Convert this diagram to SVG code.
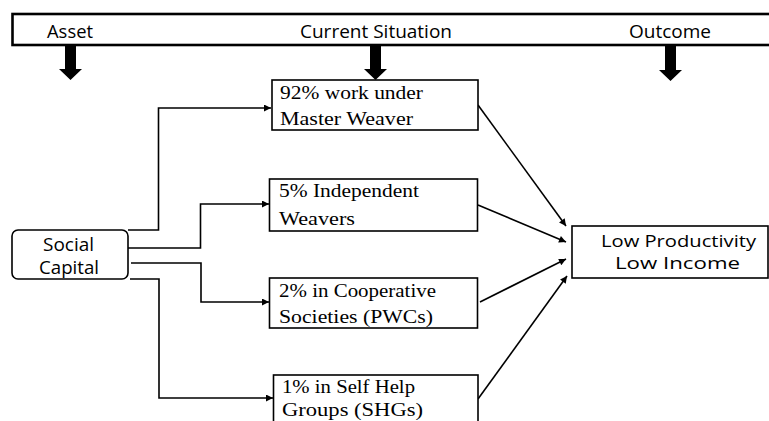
<svg xmlns="http://www.w3.org/2000/svg" width="769" height="421" viewBox="0 0 769 421">
<defs>
<style>
.sans{font-family:"Open Sans","Liberation Sans",sans-serif;font-size:18px;fill:#000}
.sm{font-size:17px}
.serif{font-family:"Liberation Serif","Times New Roman",serif;font-size:18.5px;fill:#000}
.box{fill:#fff;stroke:#000;stroke-width:1.6}
.conn{fill:none;stroke:#000;stroke-width:1.6}
.thick{fill:#000;stroke:none}
</style>
<marker id="ah" viewBox="0 0 10 10" refX="10" refY="5" markerWidth="9" markerHeight="7" markerUnits="userSpaceOnUse" orient="auto">
<path d="M0,0 L10,5 L0,10 z" fill="#000"/>
</marker>
</defs>
<rect width="769" height="421" fill="#fff"/>
<g id="header">
<rect x="12.5" y="14" width="780" height="31" fill="#fff" stroke="#000" stroke-width="2.6"/>
<text class="sans" x="47" y="37.5" textLength="46" lengthAdjust="spacingAndGlyphs">Asset</text>
<text class="sans" x="300" y="37.5" textLength="152" lengthAdjust="spacingAndGlyphs">Current Situation</text>
<text class="sans" x="629" y="37.5" textLength="82" lengthAdjust="spacingAndGlyphs">Outcome</text>
<path class="thick" d="M65,46 H76 V69 H82 L70.5,80 L59,69 H65 Z"/>
<path class="thick" d="M370,46 H381 V69 H387 L375.5,80 L364,69 H370 Z"/>
<path class="thick" d="M665,46 H676 V70 H682 L670.5,81 L659,70 H665 Z"/>
</g>
<g id="connectors">
<polyline class="conn" points="128,230 158.5,230 158.5,108 271,108" marker-end="url(#ah)"/>
<polyline class="conn" points="128,248 200.5,248 200.5,204 269,204" marker-end="url(#ah)"/>
<polyline class="conn" points="131,263 201,263 201,302 269,302" marker-end="url(#ah)"/>
<polyline class="conn" points="130,279 159,279 159,398 273,398" marker-end="url(#ah)"/>
<line class="conn" x1="478" y1="105" x2="566" y2="226" marker-end="url(#ah)"/>
<line class="conn" x1="478" y1="205" x2="566" y2="242" marker-end="url(#ah)"/>
<line class="conn" x1="480" y1="302" x2="566" y2="259" marker-end="url(#ah)"/>
<line class="conn" x1="478" y1="399" x2="567" y2="276" marker-end="url(#ah)"/>
</g>
<g id="social-capital">
<rect class="box" x="12" y="230" width="116" height="49" rx="6" ry="6"/>
<text class="sans" x="43" y="250.5" textLength="51" lengthAdjust="spacingAndGlyphs">Social</text>
<text class="sans" x="39" y="273.5" textLength="60" lengthAdjust="spacingAndGlyphs">Capital</text>
</g>
<g id="master-weaver">
<rect class="box" x="272" y="80" width="206" height="50"/>
<text class="serif" x="280" y="99" textLength="143" lengthAdjust="spacingAndGlyphs">92% work under</text>
<text class="serif" x="280" y="125" textLength="133" lengthAdjust="spacingAndGlyphs">Master Weaver</text>
</g>
<g id="independent">
<rect class="box" x="269.5" y="179" width="208" height="52"/>
<text class="serif" x="279" y="197" textLength="140" lengthAdjust="spacingAndGlyphs">5% Independent</text>
<text class="serif" x="279" y="225" textLength="76" lengthAdjust="spacingAndGlyphs">Weavers</text>
</g>
<g id="cooperative">
<rect class="box" x="269.5" y="278" width="208" height="50"/>
<text class="serif" x="279" y="297" textLength="157" lengthAdjust="spacingAndGlyphs">2% in Cooperative</text>
<text class="serif" x="279" y="323" textLength="154" lengthAdjust="spacingAndGlyphs">Societies (PWCs)</text>
</g>
<g id="shg">
<rect class="box" x="273.5" y="375" width="204.5" height="60"/>
<text class="serif" x="282" y="393" textLength="133" lengthAdjust="spacingAndGlyphs">1% in Self Help</text>
<text class="serif" x="282" y="416" textLength="141" lengthAdjust="spacingAndGlyphs">Groups (SHGs)</text>
</g>
<g id="outcome">
<rect class="box" x="572" y="226" width="196" height="52"/>
<text class="sans sm" x="601" y="246.5" textLength="155" lengthAdjust="spacingAndGlyphs">Low Productivity</text>
<text class="sans sm" x="615" y="269" textLength="125" lengthAdjust="spacingAndGlyphs">Low Income</text>
</g>
</svg>
